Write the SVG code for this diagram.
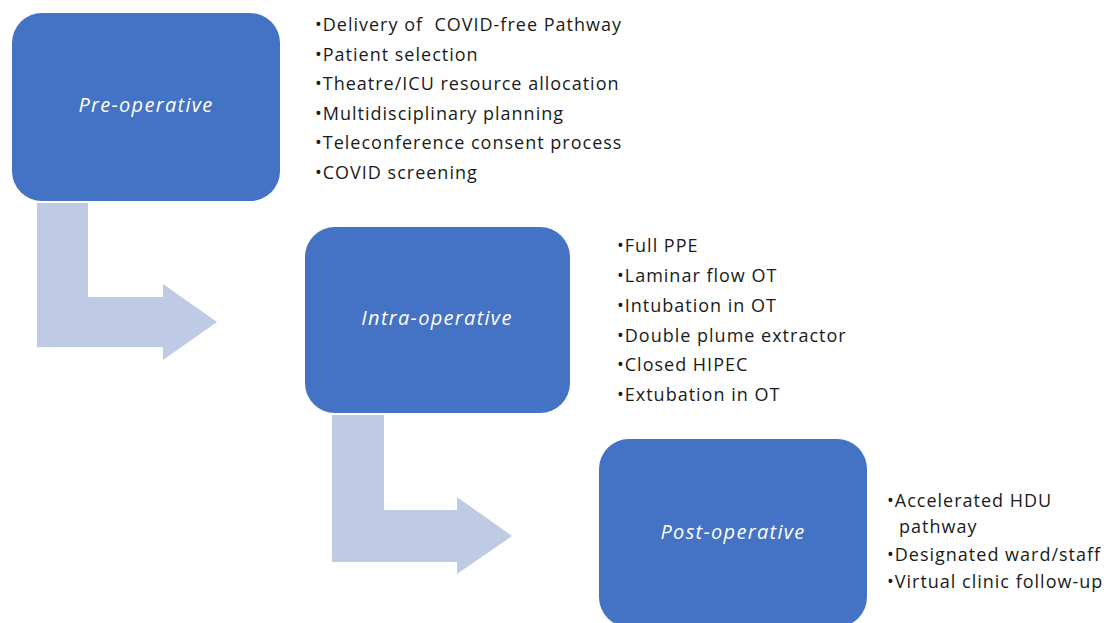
<svg xmlns="http://www.w3.org/2000/svg" width="1114" height="623" viewBox="0 0 1114 623">
<style>
.box{fill:#4472C4;}
.arrow{fill:#BFCAE4;}
.lbl{font-family:"Open Sans","Liberation Sans",sans-serif;font-style:italic;font-size:20px;letter-spacing:1.3px;fill:#FFFFFF;text-anchor:middle;}
.bul{font-family:"Open Sans","Liberation Sans",sans-serif;font-size:18px;letter-spacing:1px;fill:#1a1a1a;white-space:pre;}
</style>
<rect width="1114" height="623" fill="#FFFFFF"/>
<g id="connectors">
<path class="arrow" d="M37,203 H88 V297 H163 V284 L217,322 L163,360 V347 H37 Z"/>
<path class="arrow" d="M332,415 H384 V510 H457 V497 L512,536 L457,574 V562 H332 Z"/>
</g>
<g id="node-pre">
<rect class="box" x="12" y="13" width="268" height="188" rx="30" ry="30"/>
<text class="lbl" x="146" y="112">Pre-operative</text>
</g>
<g id="list-pre">
<text class="bul" x="315" y="31">•Delivery of  COVID-free Pathway</text>
<text class="bul" x="315" y="61">•Patient selection</text>
<text class="bul" x="315" y="90">•Theatre/ICU resource allocation</text>
<text class="bul" x="315" y="120">•Multidisciplinary planning</text>
<text class="bul" x="315" y="149">•Teleconference consent process</text>
<text class="bul" x="315" y="179">•COVID screening</text>
</g>
<g id="node-intra">
<rect class="box" x="305" y="227" width="265" height="186" rx="30" ry="30"/>
<text class="lbl" x="437" y="325">Intra-operative</text>
</g>
<g id="list-intra">
<text class="bul" x="617" y="252">•Full PPE</text>
<text class="bul" x="617" y="282">•Laminar flow OT</text>
<text class="bul" x="617" y="312">•Intubation in OT</text>
<text class="bul" x="617" y="342">•Double plume extractor</text>
<text class="bul" x="617" y="371">•Closed HIPEC</text>
<text class="bul" x="617" y="401">•Extubation in OT</text>
</g>
<g id="node-post">
<rect class="box" x="599" y="439" width="268" height="188" rx="30" ry="30"/>
<text class="lbl" x="733" y="539">Post-operative</text>
</g>
<g id="list-post">
<text class="bul" x="887" y="507">•Accelerated HDU</text>
<text class="bul" x="899" y="533">pathway</text>
<text class="bul" x="887" y="561">•Designated ward/staff</text>
<text class="bul" x="887" y="588">•Virtual clinic follow-up</text>
</g>
</svg>
